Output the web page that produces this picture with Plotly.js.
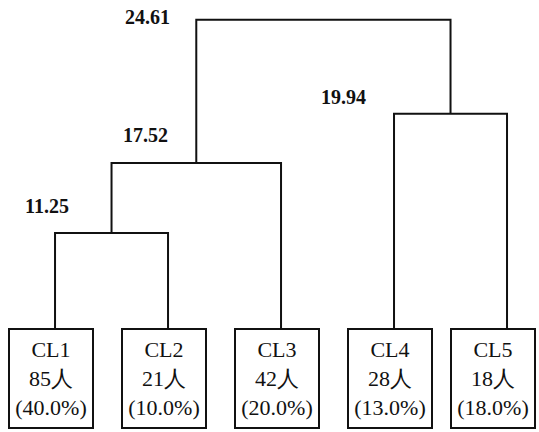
<!DOCTYPE html>
<html>
<head>
<meta charset="utf-8">
<script src="https://cdn.plot.ly/plotly-3.0.1.min.js"></script>
<style>html,body{margin:0;padding:0;background:#fff;}#chart{width:539px;height:432px;}</style>
</head>
<body>
<div id="chart"></div>
<script>
// ---- data ----
const clusters = ['CL1', 'CL2', 'CL3', 'CL4', 'CL5'];
const members = [85, 21, 42, 28, 18];
const sharePct = [40.0, 10.0, 20.0, 13.0, 18.0];
// merges: children are leaf names or earlier merge ids ('m0'...)
const mergeLeft = ['CL1', 'm0', 'CL4', 'm1'];
const mergeRight = ['CL2', 'CL3', 'CL5', 'm2'];
const mergeDistance = [11.25, 17.52, 19.94, 24.61];
// the reference tree is drawn schematically (not to scale): heights of the
// links on a hidden axis (leaf boxes at 0)
const mergeLevel = [1.01, 1.755, 2.28, 3.28];

// ---- layout config ----
const W = 539, H = 432;
const xRange = [-0.487, 4.283];
const yRange = [-1.106, 3.489];
const boxW = 80, boxH = 95, boxPad = 1, boxBorder = 2;
// label offsets (px) relative to each merge junction
const labelShift = [[-65, 27], [-51, 28], [-107, 17], [-176, 3]];

const pos = {};
clusters.forEach((c, i) => { pos[c] = {x: i, y: 0}; });
const lx = [], ly = [];
mergeLeft.forEach((l, k) => {
  const a = pos[l], b = pos[mergeRight[k]], h = mergeLevel[k];
  lx.push(a.x, a.x, b.x, b.x, null);
  ly.push(a.y, h, h, b.y, null);
  pos['m' + k] = {x: (a.x + b.x) / 2, y: h};
});

const serif = 'Liberation Serif';
const annotations = [];
const pxPerX = W / (xRange[1] - xRange[0]);
clusters.forEach((c, i) => {
  const px = (i - xRange[0]) * pxPerX;
  const half = boxW / 2 + boxPad + boxBorder;
  let shift = -4;
  if (px + shift + half > W - 3) shift = (W - 3) - half - px;
  annotations.push({
    x: i, y: 0, xref: 'x', yref: 'y', xanchor: 'center', yanchor: 'top',
    xshift: shift,
    showarrow: false,
    text: c + '<br>' + members[i] + '人<br>(' + sharePct[i].toFixed(1) + '%)',
    font: {family: serif, size: 22, color: '#111'},
    bordercolor: '#111', borderwidth: boxBorder, borderpad: boxPad,
    width: boxW, height: boxH, valign: 'middle', align: 'center', bgcolor: '#fff'
  });
});
mergeDistance.forEach((d, k) => {
  const p = pos['m' + k];
  annotations.push({
    x: p.x, y: p.y, xref: 'x', yref: 'y', xanchor: 'center', yanchor: 'middle',
    xshift: labelShift[k][0], yshift: labelShift[k][1],
    showarrow: false, text: d.toFixed(2),
    font: {family: serif, size: 20, color: '#111', weight: 'bold'}
  });
});

const trace = {
  x: lx, y: ly, type: 'scatter', mode: 'lines',
  line: {color: '#111', width: 2}, hoverinfo: 'skip', connectgaps: false
};

const layout = {
  width: W, height: H,
  margin: {l: 0, r: 0, t: 0, b: 0},
  paper_bgcolor: '#fff', plot_bgcolor: '#fff',
  showlegend: false,
  xaxis: {range: xRange, visible: false, tickvals: clusters.map((c, i) => i), ticktext: clusters},
  yaxis: {range: yRange, visible: false},
  annotations: annotations
};

Plotly.newPlot('chart', [trace], layout, {staticPlot: true, displayModeBar: false});
</script>
</body>
</html>
